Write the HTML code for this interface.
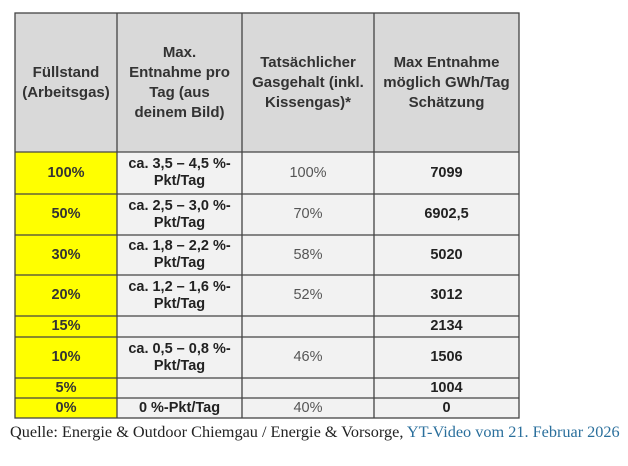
<!DOCTYPE html>
<html><head><style>
body{margin:0;background:#fff;width:628px;height:466px;position:relative;overflow:hidden;font-family:"Liberation Sans",sans-serif}
.c{position:absolute;box-sizing:border-box;display:flex;align-items:center;justify-content:center;text-align:center;font-size:14.5px;color:#222;line-height:17px}
.h{background:#d9d9d9;font-weight:bold;font-size:15px;line-height:20px;color:#333}
.y{background:#ffff00;font-weight:bold;color:#333}
.g{background:#f2f2f2}
.b{font-weight:bold}
.n{color:#555}
#grid{position:absolute;left:0;top:0}
.cap{position:absolute;left:10px;top:423px;font-family:"Liberation Serif",serif;font-size:16.25px;color:#222;white-space:nowrap}
.cap span{color:#2a6f9c}
</style></head><body>
<div class="c h" style="left:15px;top:13px;width:102px;height:139px">Füllstand<br>(Arbeitsgas)</div>
<div class="c h" style="left:117px;top:13px;width:125px;height:139px">Max.<br>Entnahme pro<br>Tag (aus<br>deinem Bild)</div>
<div class="c h" style="left:242px;top:13px;width:132px;height:139px">Tatsächlicher<br>Gasgehalt (inkl.<br>Kissengas)*</div>
<div class="c h" style="left:374px;top:13px;width:145px;height:139px">Max Entnahme<br>möglich GWh/Tag<br>Schätzung</div>

<div class="c y" style="left:15px;top:152px;width:102px;height:42px">100%</div>
<div class="c g b" style="left:117px;top:152px;width:125px;height:42px">ca. 3,5 – 4,5 %-<br>Pkt/Tag</div>
<div class="c g n" style="left:242px;top:152px;width:132px;height:42px">100%</div>
<div class="c g b" style="left:374px;top:152px;width:145px;height:42px">7099</div>

<div class="c y" style="left:15px;top:194px;width:102px;height:41px">50%</div>
<div class="c g b" style="left:117px;top:194px;width:125px;height:41px">ca. 2,5 – 3,0 %-<br>Pkt/Tag</div>
<div class="c g n" style="left:242px;top:194px;width:132px;height:41px">70%</div>
<div class="c g b" style="left:374px;top:194px;width:145px;height:41px">6902,5</div>

<div class="c y" style="left:15px;top:235px;width:102px;height:40px">30%</div>
<div class="c g b" style="left:117px;top:235px;width:125px;height:40px">ca. 1,8 – 2,2 %-<br>Pkt/Tag</div>
<div class="c g n" style="left:242px;top:235px;width:132px;height:40px">58%</div>
<div class="c g b" style="left:374px;top:235px;width:145px;height:40px">5020</div>

<div class="c y" style="left:15px;top:275px;width:102px;height:41px">20%</div>
<div class="c g b" style="left:117px;top:275px;width:125px;height:41px">ca. 1,2 – 1,6 %-<br>Pkt/Tag</div>
<div class="c g n" style="left:242px;top:275px;width:132px;height:41px">52%</div>
<div class="c g b" style="left:374px;top:275px;width:145px;height:41px">3012</div>

<div class="c y" style="left:15px;top:316px;width:102px;height:21px">15%</div>
<div class="c g" style="left:117px;top:316px;width:125px;height:21px"></div>
<div class="c g" style="left:242px;top:316px;width:132px;height:21px"></div>
<div class="c g b" style="left:374px;top:316px;width:145px;height:21px">2134</div>

<div class="c y" style="left:15px;top:337px;width:102px;height:41px">10%</div>
<div class="c g b" style="left:117px;top:337px;width:125px;height:41px">ca. 0,5 – 0,8 %-<br>Pkt/Tag</div>
<div class="c g n" style="left:242px;top:337px;width:132px;height:41px">46%</div>
<div class="c g b" style="left:374px;top:337px;width:145px;height:41px">1506</div>

<div class="c y" style="left:15px;top:378px;width:102px;height:20px">5%</div>
<div class="c g" style="left:117px;top:378px;width:125px;height:20px"></div>
<div class="c g" style="left:242px;top:378px;width:132px;height:20px"></div>
<div class="c g b" style="left:374px;top:378px;width:145px;height:20px">1004</div>

<div class="c y" style="left:15px;top:398px;width:102px;height:20px">0%</div>
<div class="c g b" style="left:117px;top:398px;width:125px;height:20px">0 %-Pkt/Tag</div>
<div class="c g n" style="left:242px;top:398px;width:132px;height:20px">40%</div>
<div class="c g b" style="left:374px;top:398px;width:145px;height:20px">0</div>

<svg id="grid" width="628" height="466" stroke="#444" stroke-width="1.3" fill="none">
<rect x="15" y="13" width="504" height="405"/>
<line x1="117" y1="13" x2="117" y2="418"/>
<line x1="242" y1="13" x2="242" y2="418"/>
<line x1="374" y1="13" x2="374" y2="418"/>
<line x1="15" y1="152" x2="519" y2="152"/>
<line x1="15" y1="194" x2="519" y2="194"/>
<line x1="15" y1="235" x2="519" y2="235"/>
<line x1="15" y1="275" x2="519" y2="275"/>
<line x1="15" y1="316" x2="519" y2="316"/>
<line x1="15" y1="337" x2="519" y2="337"/>
<line x1="15" y1="378" x2="519" y2="378"/>
<line x1="15" y1="398" x2="519" y2="398"/>
</svg>
<div class="cap">Quelle: Energie &amp; Outdoor Chiemgau / Energie &amp; Vorsorge, <span>YT-Video vom 21. Februar 2026</span></div>
</body></html>
